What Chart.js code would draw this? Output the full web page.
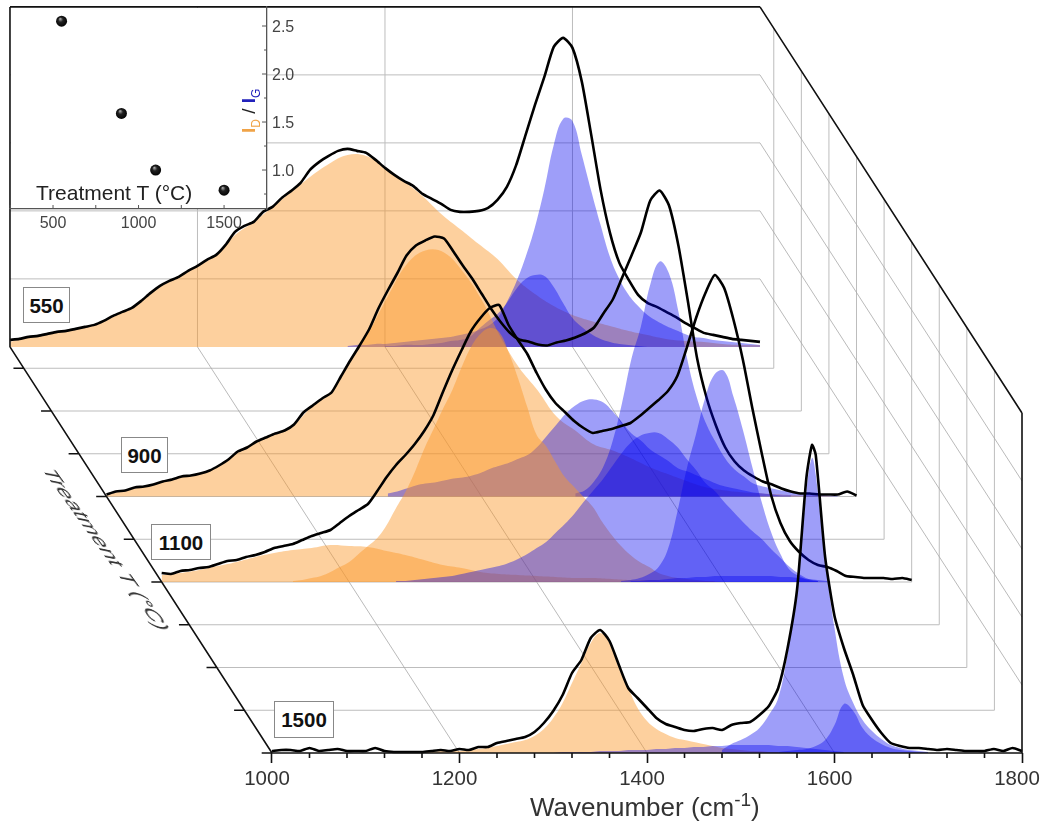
<!doctype html>
<html lang="en-US">
<head>
<title>Raman spectra vs treatment temperature</title>
<meta charset="UTF-8" />
<style>
    body { margin: 0; background: #fff; font-family: "Liberation Sans", Arial, sans-serif; }
    #wrap { position: relative; width: 1042px; height: 825px; overflow: hidden; }
    canvas { position: absolute; left: 0; top: 0; }
    .tag { position: absolute; box-sizing: border-box; background: #fff; border: 1px solid #888; color: #111;
           font-weight: bold; font-size: 20.5px; text-align: center; line-height: 35px; }
    .txt { position: absolute; white-space: nowrap; color: #222; }
</style>
</head>
<body>
<div id="wrap">
    <canvas id="myChart" width="1042" height="825"></canvas>
    <canvas id="inset" width="320" height="240"></canvas>
    <div class="tag" style="left:23px;top:287px;width:47px;height:36px">550</div>
    <div class="tag" style="left:121px;top:437px;width:47px;height:36px">900</div>
    <div class="tag" style="left:151px;top:524px;width:60px;height:36px">1100</div>
    <div class="tag" style="left:274px;top:701px;width:60px;height:37px">1500</div>
    <div class="txt" style="left:36px;top:181px;font-size:21px">Treatment T (°C)</div>
    <div class="txt" style="left:530px;top:792px;font-size:26px;color:#333">Wavenumber (cm<sup style="font-size:19px;line-height:0">-1</sup>)</div>
    <div class="txt" id="ratio" style="left:0;top:0;font-size:19px;font-weight:bold;transform-origin:0 0;transform:translate(238px,133px) rotate(-90deg)"><span style="color:#f0a347">I<sub style="font-size:12px;font-weight:normal">D</sub></span><span style="color:#222;font-weight:normal"> / </span><span style="color:#2222bb">I<sub style="font-size:12px;font-weight:normal">G</sub></span></div>
    <div class="txt" style="left:0;top:0;font-size:21px;color:#333;font-style:italic;transform-origin:0 0;transform:matrix(0.75,1.04,-0.9,0,58,468)">Treatment T (°C)</div>
</div>

<script src="https://cdn.jsdelivr.net/npm/chart.js"></script>

<script>
    // heights are in wall units: the back wall is 340 high, gridlines every 68
    const wavenumberTicks = [1000, 1200, 1400, 1600, 1800];
    const wallGridX = [1200, 1400, 1600];
    const wallLevels = [68, 136, 204, 272];
    const wallHeight = 340;
    const depthTicks = [600, 700, 800, 900, 1000, 1100, 1200, 1300, 1400, 1500];
    const floorLines = [600, 700, 800, 900, 1000, 1100, 1200, 1300, 1400];

    // measured spectra, 1000-1800 every 10 cm-1
    const black550 = [7,8,10,11,13,15,16,18,20,22,26,31,35,39,46,54,61,66,70,76,81,87,92,102,115,121,125,135,140,149,156,164,177,185,191,196,198,196,194,187,179,172,166,161,153,148,143,137,135,135,136,139,147,160,182,212,242,270,300,309,299,265,212,157,114,84,67,52,44,40,35,30,24,19,14,12,10,8,7,6,5];
    const black900 = [2,5,6,9,10,12,15,17,20,21,23,26,31,37,45,49,55,59,63,66,72,84,91,98,104,120,136,151,167,188,206,223,241,251,256,260,258,245,231,218,203,188,175,164,157,155,152,151,154,156,159,163,169,183,197,219,241,264,296,306,291,251,196,138,99,71,49,35,26,20,15,12,8,5,3,3,2,2,2,5,1];
    const black1100 = [9,8,11,12,14,15,18,21,22,25,27,30,34,36,38,42,46,49,52,59,66,72,78,91,105,117,127,138,151,167,190,212,232,251,264,274,277,257,242,228,209,192,179,170,161,154,149,151,153,156,159,166,174,182,191,206,234,264,289,307,294,262,222,174,129,87,59,41,30,22,17,15,11,6,5,4,4,4,3,4,2];
    // 1500 has the sharp G peak, so one extra sample at 1576
    const black1500 = [2,3,3,2,5,2,3,4,2,2,2,5,2,1,1,1,1,2,3,2,4,3,6,6,10,12,14,16,21,30,42,58,80,93,115,123,112,88,65,55,45,35,29,26,23,22,24,25,23,28,30,31,38,47,65,105,163,275,308,298,196,137,105,78,48,33,20,10,7,5,5,4,3,4,3,2,2,2,4,2,5,2];

    // fitted bands, the wide ones sampled every 20 cm-1, the rest every 10
    const d550Start = 1000;
    const d550 = [5,10,13,16,20,26,35,46,60,70,81,92,112,125,140,155,170,183,192,191,180,166,151,133,118,103,88,68,53,41,32,26,21,16,12,8,6,5,3,2,2];
    const g550Start = 1360;
    const g550 = [1,2,2,3,3,4,5,6,7,8,9,10,12,14,17,21,29,45,65,90,120,158,202,228,226,192,156,122,90,68,52,41,32,26,21,17,13,10,9,7,6,5,4,3,2];
    const s550Start = 1400;
    const s550 = [1,1,2,2,2,3,4,6,7,10,18,26,33,44,58,68,72,71,60,44,29,20,13,8,5,3,2,1,0];

    const d900Start = 1000;
    const d900 = [2,6,10,15,20,23,31,45,55,63,72,91,104,136,165,200,232,246,244,225,197,160,129,106,80,66,52,46,38,29,22,15,9,6,4,3,2,1,1,0,0];
    const g900Start = 1500;
    const g900 = [3,6,15,30,56,94,138,170,212,235,223,185,135,98,72,54,38,27,20,13,10,8,6,5,4,3,2,1,1];
    const s900Start = 1300;
    const s900 = [3,5,8,11,13,14,16,18,19,21,24,28,31,34,38,42,50,61,72,83,91,96,97,94,85,74,63,56,47,41,35,28,25,21,17,13,10,8,6,4,3,2,1,1];

    const w1100Start = 1000;
    const w1100 = [7,9,12,16,20,25,29,32,34,37,36,35,31,27,22,17,14,10,8,7,6,5,4,4,3,2,2,1,1,1,0];
    const d1100Start = 1140;
    const d1100 = [1,2,4,6,10,15,20,28,36,44,57,74,90,110,133,153,173,192,215,235,248,254,250,230,204,175,147,136,120,105,95,85,75,60,47,36,27,20,15,9,6,4,3,2,1,1];
    const g1100Start = 1490;
    const g1100 = [1,2,4,8,15,33,70,113,148,185,208,211,185,152,115,80,50,28,12,6,2,1];
    const s1100Start = 1250;
    const s1100 = [1,1,2,3,4,5,6,8,10,12,14,16,19,23,28,34,40,49,58,68,80,91,102,115,128,139,146,149,149,143,135,123,112,99,91,80,70,60,51,43,33,24,15,8,3,1];
    const t1100Start = 1500;
    const t1100 = [1,1,2,2,3,4,4,5,5,6,6,6,6,6,6,6,5,5,4,3,2,1];

    const d1500Start = 1150;
    const d1500 = [1,1,1,2,2,2,3,4,5,7,9,11,13,17,24,35,50,70,90,110,120,110,85,65,45,32,24,19,15,13,11,9,7,5,4,3,2,2,1,1];
    const g1500Start = 1480;
    const g1500 = [3,9,13,18,25,38,55,100,163,262,295,278,195,125,75,50,33,22,14,8,5,3,2,1];
    const s1500Start = 1540;
    const s1500 = [1,2,3,4,7,13,28,49,42,25,15,9,5,3,2,1,1];
    const b1500Start = 1300;
    const b1500 = [0,1,1,1,1,2,2,2,3,3,3,4,4,5,5,6,6,7,7,8,8,8,8,8,7,7,6,5,4,3,2,1];

    // inset: intensity ratio against treatment temperature
    const insetT = [550, 900, 1100, 1500];
    const insetRatio = [2.55, 1.59, 1.0, 0.79];
    const insetXTicks = [250, 500, 750, 1000, 1250, 1500];
    const insetYTicks = [0.75, 1, 1.25, 1.5, 1.75, 2, 2.25, 2.5];

    // oblique projection, front spectrum (1500) sits on the x axis
    const DX = 0.2942, DY = 0.4275;
    function project(wn, h, T) {
        return {x: wn - (1500 - T) * DX, y: h + (1500 - T) * DY};
    }
    function steps(start, n, step, extra) {
        var w = [];
        for (var i = 0; i < n; i++) w.push(start + i * step);
        if (extra) { w.push(extra); w.sort(function (a, b) { return a - b; }); }
        return w;
    }

    const datasets = [];
    function add(ds) {
        ds.type = 'line';
        ds.pointRadius = 0;
        ds.order = 5000 - datasets.length; // later = on top
        ds.clip = false;
        datasets.push(ds);
    }
    function segments(list, color, width) {
        var pts = [];
        list.forEach(function (s) { pts.push(s[0], s[1], {x: s[1].x, y: null}); });
        add({data: pts, borderColor: color, borderWidth: width, spanGaps: false, fill: false});
    }
    const orange = 'rgba(250,150,40,0.45)';
    const blue = 'rgba(0,0,240,0.38)';
    function band(T, start, values, color, step, extra) {
        var w = steps(start, extra ? values.length - 1 : values.length, step, extra);
        add({
            data: values.map(function (h, i) { return project(w[i], h, T); }),
            borderWidth: 0, borderColor: 'transparent', backgroundColor: color,
            fill: {value: project(1000, 0, T).y}, tension: 0.4
        });
    }
    function trace(T, values, extra) {
        var w = steps(1000, extra ? values.length - 1 : values.length, 10, extra);
        add({
            data: values.map(function (h, i) { return project(w[i], h, T); }),
            borderColor: '#000', borderWidth: 2.6, fill: false, tension: 0.2, borderJoinStyle: 'round'
        });
    }

    // walls and floor
    var thin = [], grid = [];
    wallGridX.forEach(function (wn) {
        grid.push([project(wn, 0, 550), project(wn, wallHeight, 550)]);
        thin.push([project(wn, 0, 550), project(wn, 0, 1500)]);
    });
    wallLevels.forEach(function (h) {
        grid.push([project(1000, h, 550), project(1800, h, 550)]);
        thin.push([project(1800, h, 550), project(1800, h, 1500)]);
    });
    floorLines.forEach(function (T) {
        grid.push([project(1000, 0, T), project(1800, 0, T)]);
        grid.push([project(1800, 0, T), project(1800, wallHeight, T)]);
    });
    segments(grid, '#bdbdbd', 1);
    segments(thin, '#a8a8a8', 0.8);

    // back to front
    band(550, d550Start, d550, orange, 20);
    band(550, g550Start, g550, blue, 10);
    band(550, s550Start, s550, blue, 10);
    trace(550, black550);
    band(900, d900Start, d900, orange, 20);
    band(900, g900Start, g900, blue, 10);
    band(900, s900Start, s900, blue, 10);
    trace(900, black900);
    band(1100, w1100Start, w1100, orange, 20);
    band(1100, d1100Start, d1100, orange, 10);
    band(1100, g1100Start, g1100, blue, 10);
    band(1100, s1100Start, s1100, blue, 10);
    band(1100, t1100Start, t1100, blue, 10);
    trace(1100, black1100);
    band(1500, d1500Start, d1500, orange, 10);
    band(1500, b1500Start, b1500, blue, 10);
    band(1500, g1500Start, g1500, blue, 10, 1576);
    band(1500, s1500Start, s1500, blue, 10);
    trace(1500, black1500, 1576);

    // frame and ticks
    var frame = [
        [project(1000, 0, 550), project(1000, wallHeight, 550)],
        [project(1000, wallHeight, 550), project(1800, wallHeight, 550)],
        [project(1800, wallHeight, 550), project(1800, wallHeight, 1500)],
        [project(1800, wallHeight, 1500), project(1800, 0, 1500)],
        [project(1800, 0, 1500), project(1000, 0, 1500)],
        [project(1000, 0, 1500), project(1000, 0, 550)]
    ];
    depthTicks.forEach(function (T) {
        frame.push([project(1000, 0, T), project(989, 0, T)]);
    });
    for (var wn = 1040; wn < 1800; wn += 40) {
        if (wn % 200) frame.push([project(wn, 0, 1500), project(wn, -5, 1500)]);
    }
    segments(frame, '#111', 1.6);

    new Chart(document.getElementById('myChart'), {
        data: {datasets: datasets},
        options: {
            responsive: false,
            animation: false,
            layout: {padding: 0},
            plugins: {legend: {display: false}, tooltip: {enabled: false}, filler: {propagate: false}},
            scales: {
                x: {
                    type: 'linear',
                    min: 709.87,
                    max: 1821.33,
                    afterBuildTicks: function (s) { s.ticks = wavenumberTicks.map(function (v) { return {value: v}; }); },
                    afterFit: function (s) { s.height = 72; s.paddingLeft = 0; s.paddingRight = 0; },
                    border: {display: false},
                    grid: {drawOnChartArea: false, drawTicks: true, tickLength: 10, tickColor: '#111', tickWidth: 1.6},
                    ticks: {
                        autoSkip: false, maxRotation: 0, padding: 4, labelOffset: -5,
                        color: '#333', font: {family: 'Liberation Sans', size: 20.5},
                        callback: function (v) { return v; }
                    }
                },
                y: {type: 'linear', display: false, min: 0, max: 753}
            }
        }
    });

    // inset chart
    const insetBack = {
        id: 'insetBack',
        beforeDraw: function (chart) {
            var a = chart.chartArea, c = chart.ctx;
            c.save();
            c.fillStyle = '#fff';
            c.fillRect(a.left + 1, a.top + 1, a.right - a.left - 1, a.bottom - a.top - 1);
            c.restore();
        },
        afterDraw: function (chart) {
            // ticks point into the plot
            var a = chart.chartArea, c = chart.ctx;
            c.save();
            c.strokeStyle = '#555';
            c.lineWidth = 1;
            c.beginPath();
            insetXTicks.forEach(function (v) {
                var x = chart.scales.x.getPixelForValue(v);
                c.moveTo(x, a.bottom); c.lineTo(x, a.bottom - 4);
            });
            insetYTicks.forEach(function (v) {
                var y = chart.scales.y.getPixelForValue(v);
                c.moveTo(a.right, y); c.lineTo(a.right - (v * 2 % 1 === 0 ? 5 : 3), y);
            });
            c.stroke();
            c.restore();
        }
    };
    new Chart(document.getElementById('inset'), {
        type: 'scatter',
        data: {
            datasets: [{
                data: insetT.map(function (t, i) { return {x: t, y: insetRatio[i]}; }),
                pointRadius: 5.5,
                pointBorderWidth: 0,
                pointBackgroundColor: function (ctx) {
                    if (!ctx.parsed) return '#000';
                    var ch = ctx.chart;
                    var x = ch.scales.x.getPixelForValue(ctx.parsed.x), y = ch.scales.y.getPixelForValue(ctx.parsed.y);
                    if (!isFinite(x) || !isFinite(y)) return '#000';
                    var g = ch.ctx.createRadialGradient(x - 1.5, y - 2.5, 0, x, y, 6);
                    g.addColorStop(0, '#bbb');
                    g.addColorStop(0.4, '#222');
                    g.addColorStop(1, '#000');
                    return g;
                }
            }]
        },
        options: {
            responsive: false,
            animation: false,
            layout: {padding: {left: 10, top: 7}},
            plugins: {legend: {display: false}, tooltip: {enabled: false}},
            scales: {
                x: {
                    min: 248.5,
                    max: 1751,
                    afterBuildTicks: function (s) { s.ticks = insetXTicks.map(function (v) { return {value: v}; }); },
                    afterFit: function (s) { s.height = 31; s.paddingLeft = 0; s.paddingRight = 0; },
                    border: {color: '#555', width: 1.3},
                    grid: {drawOnChartArea: false, drawTicks: false},
                    ticks: {
                        autoSkip: false, maxRotation: 0, padding: 5, color: '#444',
                        font: {family: 'Liberation Sans', size: 16},
                        callback: function (v) { return v % 500 === 0 ? v : ''; }
                    }
                },
                y: {
                    position: 'right',
                    min: 0.594,
                    max: 2.698,
                    afterBuildTicks: function (s) { s.ticks = insetYTicks.map(function (v) { return {value: v}; }); },
                    afterFit: function (s) { s.width = 53; s.paddingTop = 0; s.paddingBottom = 0; },
                    border: {color: '#555', width: 1.3},
                    grid: {drawOnChartArea: false, drawTicks: false},
                    ticks: {
                        autoSkip: false, padding: 5, labelOffset: 2, color: '#444',
                        font: {family: 'Liberation Sans', size: 16},
                        callback: function (v) { return v * 2 % 1 === 0 ? v.toFixed(1) : ''; }
                    }
                }
            }
        },
        plugins: [insetBack]
    });
</script>
</body>
</html>
